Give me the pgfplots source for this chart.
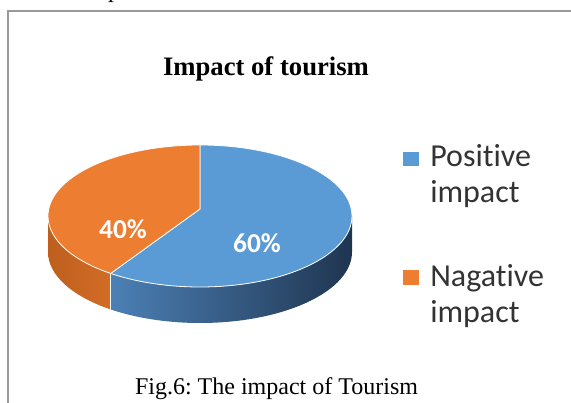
\documentclass[border=0pt]{standalone}
\usepackage{fontspec}
\setmainfont{Carlito}[Ligatures=NoCommon]
\newfontfamily\timesf{Liberation Serif}
\usepackage{pgfplots}
\usepackage{pgfplotstable}
\pgfplotsset{compat=1.18}
\frenchspacing
\definecolor{posblue}{HTML}{5B9BD5}
\definecolor{negorange}{HTML}{ED7D31}
\definecolor{bsideL}{HTML}{4C80B5}
\definecolor{bsideR}{HTML}{1F3550}
\definecolor{osideL}{HTML}{BE5F1E}
\definecolor{osideR}{HTML}{D26C26}
\pgfplotstableread{
label value
Positive 60
Nagative 40
}\piedata
\begin{document}%
\begin{tikzpicture}
\pgfplotstablegetelem{0}{value}\of\piedata \edef\vA{\pgfplotsretval}
\pgfplotstablegetelem{1}{value}\of\piedata \edef\vB{\pgfplotsretval}
\pgfmathsetmacro\frac{\vA/(\vA+\vB)}
\pgfmathsetmacro\angEnd{90-360*\frac}
\pgfmathsetmacro\angSide{360+\angEnd}
\pgfmathsetmacro\ex{200+152*cos(\angEnd)}
\pgfmathsetmacro\ey{187+71*sin(\angEnd)}
\begin{axis}[at={(0,0)}, anchor=south west, scale only axis,
  width=428.25pt, height=302.25pt, xmin=0, xmax=571, ymin=0, ymax=403,
  hide axis, clip=false]
% frame
\draw[color=black!40, line width=1.3pt] (axis cs:8,0) -- (axis cs:8,392) -- (axis cs:571,392);
% fragment of the text line above the figure
\node[anchor=base, inner sep=0pt, font=\timesf\fontsize{18}{18}\selectfont] at (axis cs:114,405.5) {p};
% side faces
\path[left color=osideL, right color=osideR]
  (axis cs:48,187) arc[start angle=180, end angle=\angSide, x radius=114pt, y radius=53.25pt]
  -- ++(0,-27pt) arc[start angle=\angSide, end angle=180, x radius=114pt, y radius=53.25pt] -- cycle;
\path[left color=bsideL, right color=bsideR]
  (axis cs:\ex,\ey) arc[start angle=\angSide, end angle=360, x radius=114pt, y radius=53.25pt]
  -- ++(0,-27pt) arc[start angle=360, end angle=\angSide, x radius=114pt, y radius=53.25pt] -- cycle;
\draw[white, line width=0.6pt] (axis cs:\ex,\ey) -- ++(0,-27pt);
% top faces
\filldraw[fill=posblue, draw=white, line width=0.6pt]
  (axis cs:200,258) arc[start angle=90, end angle=\angEnd, x radius=114pt, y radius=53.25pt]
  -- (axis cs:200,194) -- cycle;
\filldraw[fill=negorange, draw=white, line width=0.6pt]
  (axis cs:\ex,\ey) arc[start angle=\angEnd, end angle=-270, x radius=114pt, y radius=53.25pt]
  -- (axis cs:200,194) -- cycle;
% data labels
\node[text=white, font=\bfseries\fontsize{20.5}{20.5}\selectfont] at (axis cs:257,160) {60\%};
\node[text=white, font=\bfseries\fontsize{20.5}{20.5}\selectfont] at (axis cs:123,174) {40\%};
% legend
\fill[posblue] (axis cs:403,251) rectangle (axis cs:419,237);
\fill[negorange] (axis cs:403,133) rectangle (axis cs:419,118);
\node[anchor=base west, inner sep=0pt, text=black!80, font=\fontsize{24}{28}\selectfont] at (axis cs:430,236) {Positive};
\node[anchor=base west, inner sep=0pt, text=black!80, font=\fontsize{24}{28}\selectfont] at (axis cs:430,200) {impact};
\node[anchor=base west, inner sep=0pt, text=black!80, font=\fontsize{24}{28}\selectfont] at (axis cs:430,116) {Nagative};
\node[anchor=base west, inner sep=0pt, text=black!80, font=\fontsize{24}{28}\selectfont] at (axis cs:430,80) {impact};
% title and caption
\node[anchor=base, inner sep=0pt, font=\timesf\bfseries\fontsize{20}{20}\selectfont] at (axis cs:266,327) {Impact of tourism};
\node[anchor=base, inner sep=0pt, font=\timesf\fontsize{18}{18}\selectfont] at (axis cs:276.5,8) {Fig.6: The impact of Tourism};
\end{axis}
\pgfresetboundingbox
\path[use as bounding box] (0,0) rectangle (428.25pt,302.25pt);
\end{tikzpicture}%
\end{document}
